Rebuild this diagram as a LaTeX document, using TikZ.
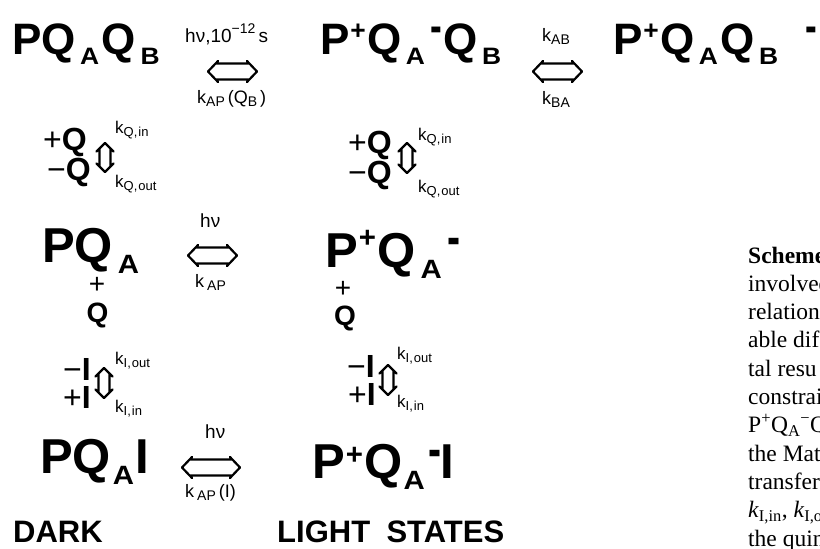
\documentclass[tikz,border=0pt]{standalone}
\usepackage{fontspec}
\setmainfont{Liberation Serif}
\newfontfamily\arial{Liberation Sans}
\usetikzlibrary{calc}
% lowered subscript / raised charges inside the big formulas
\newcommand{\dn}[1]{\kern.1em\raisebox{-.23em}{\scalebox{.6}[.54]{#1}}\kern.06em}
\newcommand{\up}[1][.34em]{\kern.02em\raisebox{#1}{\scalebox{.6}{+}}\kern.03em}
\newcommand{\mi}[1][.27em]{\kern.06em\raisebox{#1}{\scalebox{.8}[1.1]{-}}\kern.04em}
% small subscript for the rate labels
\newcommand{\ks}[1]{\raisebox{-.2em}{\fontsize{13}{13}\selectfont #1}}
\newcommand{\kb}[1]{\raisebox{-.2em}{\fontsize{14}{14}\selectfont #1}}
\tikzset{
  every picture/.style={line join=round,line cap=round},
  species/.style={inner sep=0pt,anchor=base west,
    font=\arial\bfseries\fontsize{44}{44}\selectfont},
  species big/.style={species,font=\arial\bfseries\fontsize{49}{49}\selectfont},
  ion/.style={inner sep=0pt,anchor=base west,text height=23pt,text depth=0pt,
    font=\arial\fontsize{32}{32}\selectfont},
  small ion/.style={ion,anchor=base,text height=18pt,font=\arial\fontsize{28}{28}\selectfont},
  rate/.style={inner sep=0pt,anchor=base west,font=\arial\fontsize{17}{17}\selectfont},
  rate big/.style={rate,font=\arial\fontsize{18}{18}\selectfont},
  light/.style={rate,font=\arial\fontsize{19}{19}\selectfont},
  % hollow double arrows, drawn tip to tip
  hswap/.style={line width=2.2pt,to path={
    ($(\tikztostart)+(10,-10.5)$) -- (\tikztostart) -- ($(\tikztostart)+(10,10.5)$)
    ($(\tikztostart)+(7.6,-8)$) -- ($(\tikztotarget)+(-7.6,-8)$)
    ($(\tikztostart)+(7.6,8)$) -- ($(\tikztotarget)+(-7.6,8)$)
    ($(\tikztotarget)+(-10,-10.5)$) -- (\tikztotarget) -- ($(\tikztotarget)+(-10,10.5)$)}},
  vswap/.style={line width=2.2pt,to path={
    ($(\tikztostart)+(-8.5,8.5)$) -- (\tikztostart) -- ($(\tikztostart)+(8.5,8.5)$)
    ($(\tikztostart)+(-5.5,5.5)$) -- ($(\tikztotarget)+(-5.5,-5.5)$)
    ($(\tikztostart)+(5.5,5.5)$) -- ($(\tikztotarget)+(5.5,-5.5)$)
    ($(\tikztotarget)+(-8.5,-8.5)$) -- (\tikztotarget) -- ($(\tikztotarget)+(8.5,-8.5)$)}},
  tag/.style={inner sep=0pt,anchor=base west,font=\arial\bfseries\fontsize{31}{31}\selectfont},
  capline/.style={inner sep=0pt,anchor=base west,font=\fontsize{23.5}{28}\selectfont},
}
\begin{document}
\begin{tikzpicture}[x=1pt,y=-1pt]
\clip (0,0) rectangle (820,549);
% top row
\node[species] (pqq) at (12,54) {PQ\dn{A}Q\dn{B}};
\node[species] (pqmq) at (320,54) {P\up Q\dn{A}\mi Q\dn{B}};
\node[species] (pqqm) at (613,54) {P\up Q\dn{A}Q\dn{B}\kern22pt\mi};
\coordinate (h1l) at (208,71.5); \coordinate (h1r) at (257,71.5);
\coordinate (h2l) at (533,71.5); \coordinate (h2r) at (582,71.5);
\draw[hswap] (h1l) to (h1r);
\draw[hswap] (h2l) to (h2r);
\node[light] (hv1) at (185,42) {hν,10\raisebox{.45em}{\fontsize{14}{14}\selectfont −12}\,s};
\node[rate big] (kapq) at (197,103) {k\kb{AP}\kern3pt(Q\kb{B}\kern3pt)};
\node[rate big] (kab) at (542,41) {k\kb{AB}};
\node[rate big] (kba) at (542,104) {k\kb{BA}};
% quinone exchange
\node[ion] (qinL) at (43,150) {+\textbf{Q}};
\node[ion] (qoutL) at (47,180) {−\textbf{Q}};
\coordinate (v1t) at (105,143); \coordinate (v1b) at (105,172);
\draw[vswap] (v1t) to (v1b);
\node[rate] (kqinL) at (115,133) {k\ks{Q,\kern1pt in}};
\node[rate] (kqoutL) at (115,187) {k\ks{Q,\kern1pt out}};
\node[ion] (qinR) at (348,153) {+\textbf{Q}};
\node[ion] (qoutR) at (348,183) {−\textbf{Q}};
\coordinate (v2t) at (407,143); \coordinate (v2b) at (407,173);
\draw[vswap] (v2t) to (v2b);
\node[rate] (kqinR) at (418,140) {k\ks{Q,\kern1pt in}};
\node[rate] (kqoutR) at (418,192) {k\ks{Q,\kern1pt out}};
% middle row
\node[species big] (pqa) at (42,262) {PQ\dn{A}};
\node[species big] (pqam) at (325,267) {P\up[.39em]Q\dn{A}\mi[.24em]};
\coordinate (h3l) at (188,255.5); \coordinate (h3r) at (237,255.5);
\draw[hswap] (h3l) to (h3r);
\node[light] (hv3) at (200,227) {hν};
\node[rate big] (kap) at (195,287) {k\,\kb{AP}};
\node[small ion] (plusL) at (97,293) {+};
\node[small ion] (qL) at (97.5,322) {\textbf{Q}};
\node[small ion] (plusR) at (343,297) {+};
\node[small ion] (qR) at (345,325) {\textbf{Q}};
% inhibitor exchange
\node[ion] (ioutL) at (63,380) {−\textbf{I}};
\node[ion] (iinL) at (63,408) {+\textbf{I}};
\coordinate (v3t) at (104,368); \coordinate (v3b) at (104,398);
\draw[vswap] (v3t) to (v3b);
\node[rate] (kioutL) at (115,364) {k\ks{I,\kern1pt out}};
\node[rate] (kiinL) at (115,412) {k\ks{I,\kern1pt in}};
\node[ion] (ioutR) at (347,377) {−\textbf{I}};
\node[ion] (iinR) at (348,405) {+\textbf{I}};
\coordinate (v4t) at (388,365); \coordinate (v4b) at (388,395);
\draw[vswap] (v4t) to (v4b);
\node[rate] (kioutR) at (397,359) {k\ks{I,\kern1pt out}};
\node[rate] (kiinR) at (397,407) {k\ks{I,\kern1pt in}};
% bottom row
\node[species big] (pqai) at (40,473) {PQ\kern-.06em\dn{A}\kern-.04em I};
\node[species big] (pqami) at (312,478) {P\up[.27em]Q\kern-.08em\dn{A}\kern-.05em\mi[.22em]\kern-.05em I};
\coordinate (h4l) at (182,467.5); \coordinate (h4r) at (240,467.5);
\draw[hswap] (h4l) to (h4r);
\node[light] (hv4) at (205,438) {hν};
\node[rate big] (kapi) at (185,497) {k\,\kb{AP}\,(I)};
\node[tag] (dark) at (13,542) {DARK};
\node[tag] (light) at (277,542) {LIGHT\hspace{.25em} STATES};
% caption of the page, cut at the right edge
\foreach \txt [count=\i from 0] in {\textbf{Scheme},involved,relation,able dif,tal resu,constrai,
  {P\textsuperscript{+}Q\textsubscript{A}\textsuperscript{−}Q},the Mat,transfer,
  {\textit{k}\textsubscript{I,in}, \textit{k}\textsubscript{I,o}},the quin}
  \node[capline] (cap\i) at (748,{263+28.3*\i}) {\txt};
\end{tikzpicture}
\end{document}
